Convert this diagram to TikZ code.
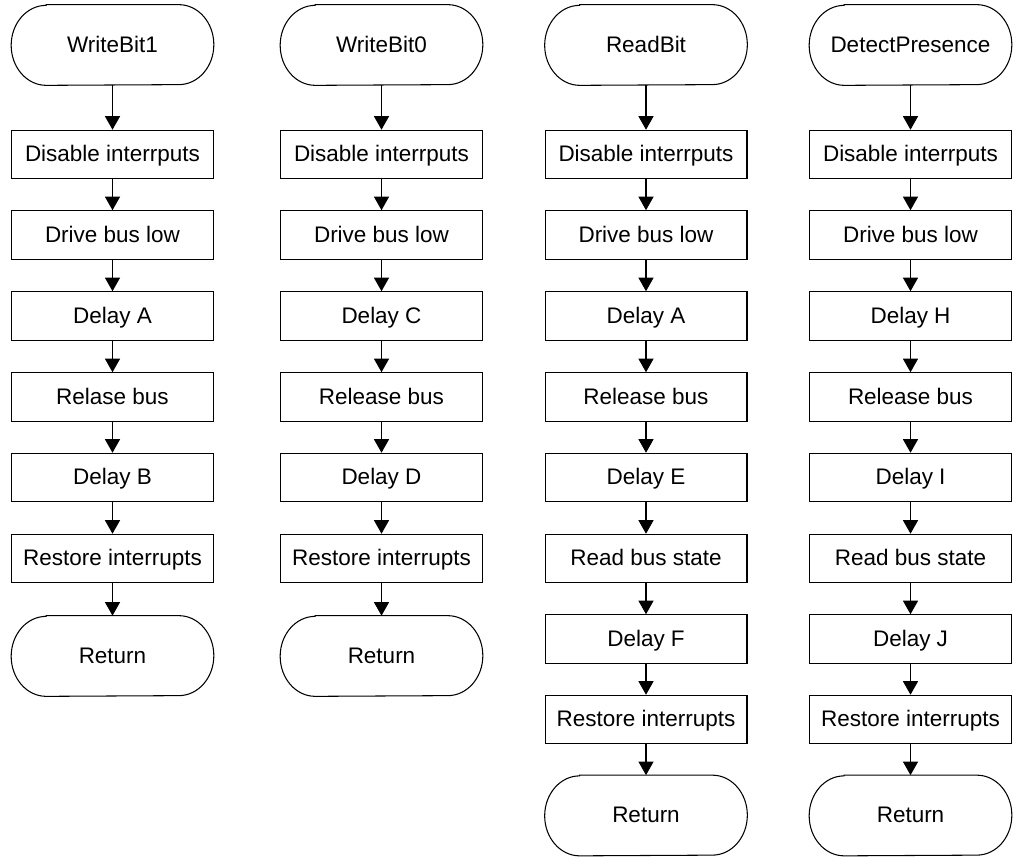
\documentclass[tikz,border=0pt]{standalone}
\usepackage{fontspec}
\setmainfont{Liberation Sans}
\usepackage{tikz}
\usetikzlibrary{arrows.meta}

% terminal: rectangle node with elliptic ends drawn round it
\newcommand{\Terminal}[4]{%
  \node[term] (#1) at (#2,#3) {#4};
  \draw[line] ([xshift=0.7cm]#1.north west) -- ([xshift=-0.7cm]#1.north east)
    arc[start angle=90,end angle=-90,x radius=0.7cm,y radius=0.8cm]
    -- ([xshift=0.7cm]#1.south west)
    arc[start angle=270,end angle=90,x radius=0.7cm,y radius=0.8cm] -- cycle;}

\begin{document}
\begin{tikzpicture}[x=0.02cm,y=-0.02cm,
    line/.style={line width=0.6pt},
    txt/.style={font=\fontsize{12.8}{15}\selectfont,text height=1.08em,text depth=0.25em},
    term/.style={txt,minimum width=4.04cm,minimum height=1.6cm,inner sep=0pt},
    proc/.style={txt,line,draw,minimum width=4.04cm,minimum height=0.97cm,inner sep=0pt},
    flow/.style={line,-{Triangle[width=0.3cm,length=0.27cm]}}]
		\useasboundingbox (0,0) rectangle (1017,857);
		% WriteBit1
		\Terminal{wa0}{112.5}{45}{WriteBit1}
		\node[proc] (wa1) at (112.5,154.5) {Disable interrputs};
		\node[proc] (wa2) at (112.5,235) {Drive bus low};
		\node[proc] (wa3) at (112.5,316) {Delay A};
		\node[proc] (wa4) at (112.5,397) {Relase bus};
		\node[proc] (wa5) at (112.5,477.5) {Delay B};
		\node[proc] (wa6) at (112.5,558.5) {Restore interrupts};
		\Terminal{wa7}{112.5}{656}{Return}
		\draw[flow] (wa0) -- (wa1);
		\draw[flow] (wa1) -- (wa2);
		\draw[flow] (wa2) -- (wa3);
		\draw[flow] (wa3) -- (wa4);
		\draw[flow] (wa4) -- (wa5);
		\draw[flow] (wa5) -- (wa6);
		\draw[flow] (wa6) -- (wa7);
		% WriteBit0
		\Terminal{wb0}{381.5}{45}{WriteBit0}
		\node[proc] (wb1) at (381.5,154.5) {Disable interrputs};
		\node[proc] (wb2) at (381.5,235) {Drive bus low};
		\node[proc] (wb3) at (381.5,316) {Delay C};
		\node[proc] (wb4) at (381.5,397) {Release bus};
		\node[proc] (wb5) at (381.5,477.5) {Delay D};
		\node[proc] (wb6) at (381.5,558.5) {Restore interrupts};
		\Terminal{wb7}{381.5}{656}{Return}
		\draw[flow] (wb0) -- (wb1);
		\draw[flow] (wb1) -- (wb2);
		\draw[flow] (wb2) -- (wb3);
		\draw[flow] (wb3) -- (wb4);
		\draw[flow] (wb4) -- (wb5);
		\draw[flow] (wb5) -- (wb6);
		\draw[flow] (wb6) -- (wb7);
		% ReadBit
		\Terminal{rd0}{646}{45}{ReadBit}
		\node[proc] (rd1) at (646,154.5) {Disable interrputs};
		\node[proc] (rd2) at (646,235) {Drive bus low};
		\node[proc] (rd3) at (646,316) {Delay A};
		\node[proc] (rd4) at (646,397) {Release bus};
		\node[proc] (rd5) at (646,477.5) {Delay E};
		\node[proc] (rd6) at (646,558.5) {Read bus state};
		\node[proc] (rd7) at (646,639) {Delay F};
		\node[proc] (rd8) at (646,719.5) {Restore interrupts};
		\Terminal{rd9}{646}{815.5}{Return}
		\draw[flow] (rd0) -- (rd1);
		\draw[flow] (rd1) -- (rd2);
		\draw[flow] (rd2) -- (rd3);
		\draw[flow] (rd3) -- (rd4);
		\draw[flow] (rd4) -- (rd5);
		\draw[flow] (rd5) -- (rd6);
		\draw[flow] (rd6) -- (rd7);
		\draw[flow] (rd7) -- (rd8);
		\draw[flow] (rd8) -- (rd9);
		% DetectPresence
		\Terminal{dp0}{910.5}{45}{DetectPresence}
		\node[proc] (dp1) at (910.5,154.5) {Disable interrputs};
		\node[proc] (dp2) at (910.5,235) {Drive bus low};
		\node[proc] (dp3) at (910.5,316) {Delay H};
		\node[proc] (dp4) at (910.5,397) {Release bus};
		\node[proc] (dp5) at (910.5,477.5) {Delay I};
		\node[proc] (dp6) at (910.5,558.5) {Read bus state};
		\node[proc] (dp7) at (910.5,639) {Delay J};
		\node[proc] (dp8) at (910.5,719.5) {Restore interrupts};
		\Terminal{dp9}{910.5}{815.5}{Return}
		\draw[flow] (dp0) -- (dp1);
		\draw[flow] (dp1) -- (dp2);
		\draw[flow] (dp2) -- (dp3);
		\draw[flow] (dp3) -- (dp4);
		\draw[flow] (dp4) -- (dp5);
		\draw[flow] (dp5) -- (dp6);
		\draw[flow] (dp6) -- (dp7);
		\draw[flow] (dp7) -- (dp8);
		\draw[flow] (dp8) -- (dp9);
	\end{tikzpicture}
\end{document}
